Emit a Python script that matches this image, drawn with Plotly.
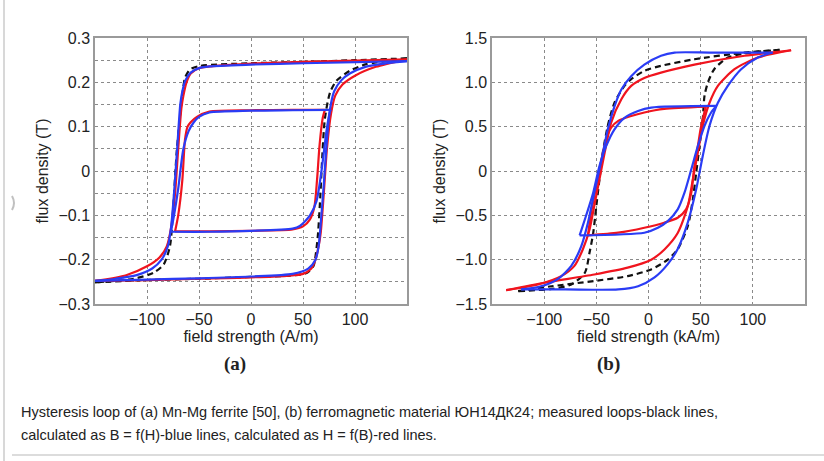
import plotly.graph_objects as go

# ================= Panel (a): Mn-Mg ferrite (H in A/m, B in T) =================
# measured major loop (black dashed): descending and ascending branches
a_meas_desc_H = [150, 100, 50, 0, -49, -58.7, -63.5, -65.7, -68, -71.5, -74.7, -77.9, -84, -94, -113, -150]
a_meas_desc_B = [0.254, 0.250, 0.246, 0.243, 0.237, 0.229, 0.210, 0.177, 0.130, 0.041, -0.079, -0.169, -0.211, -0.230, -0.243, -0.251]
a_meas_asc_H = [-150, -100, -50, 0, 37.5, 53.5, 60, 62.5, 64.5, 66.3, 71, 76, 82, 95, 111, 150]
a_meas_asc_B = [-0.251, -0.246, -0.243, -0.239, -0.236, -0.230, -0.215, -0.184, -0.140, -0.072, 0.117, 0.177, 0.203, 0.226, 0.241, 0.254]

# calculated B = f(H) (blue), major loop
a_bh_desc_H = [150, 50, 0, -40, -50, -58, -63, -66, -68, -71, -74, -77, -80, -86, -95, -110, -130, -150]
a_bh_desc_B = [0.248, 0.243, 0.240, 0.236, 0.232, 0.222, 0.205, 0.180, 0.150, 0.050, -0.050, -0.130, -0.170, -0.200, -0.220, -0.235, -0.243, -0.248]
a_bh_asc_H = [-150, -100, -50, 0, 40, 55, 62, 65, 67, 70, 73, 76, 80, 87, 95, 110, 130, 150]
a_bh_asc_B = [-0.248, -0.245, -0.242, -0.238, -0.232, -0.220, -0.200, -0.170, -0.120, -0.030, 0.070, 0.140, 0.180, 0.205, 0.220, 0.235, 0.243, 0.248]

# calculated H = f(B) (red), major loop
a_hb_desc_H = [150, 50, 0, -50, -58, -62, -65, -67, -70, -73, -77, -81, -88, -100, -120, -150]
a_hb_desc_B = [0.252, 0.246, 0.242, 0.232, 0.220, 0.200, 0.170, 0.140, 0.050, -0.050, -0.130, -0.170, -0.195, -0.215, -0.235, -0.248]
a_hb_asc_H = [-150, -100, -50, 0, 50, 58, 62, 65, 67, 70, 73, 77, 81, 88, 100, 120, 150]
a_hb_asc_B = [-0.248, -0.246, -0.243, -0.240, -0.232, -0.220, -0.200, -0.170, -0.140, -0.050, 0.050, 0.130, 0.170, 0.195, 0.215, 0.235, 0.252]

# minor loops
a_bh_minor_desc_H = [77, 40, 0, -40, -50, -55, -60, -65, -70, -74, -77]
a_bh_minor_desc_B = [0.138, 0.137, 0.136, 0.132, 0.122, 0.110, 0.090, 0.050, -0.040, -0.100, -0.137]
a_bh_minor_asc_H = [-77, -40, 0, 40, 47, 56.7, 63, 68, 72.8, 76, 77]
a_bh_minor_asc_B = [-0.137, -0.137, -0.135, -0.130, -0.124, -0.100, -0.068, 0.004, 0.094, 0.135, 0.138]

a_hb_minor_desc_H = [71, 40, 0, -40, -52, -58, -61, -63.5, -66, -70, -73]
a_hb_minor_desc_B = [0.138, 0.138, 0.137, 0.134, 0.122, 0.110, 0.100, 0.070, -0.020, -0.100, -0.136]
a_hb_minor_asc_H = [-73, -40, 0, 40, 50, 56.7, 61, 63.5, 66, 69, 71]
a_hb_minor_asc_B = [-0.136, -0.136, -0.135, -0.132, -0.125, -0.109, -0.080, -0.020, 0.060, 0.120, 0.138]

# ================= Panel (b): ЮН14ДК24 (H in kA/m, B in T) =================
b_meas_desc_H = [125.6, 92, 44, 12, -4, -16.6, -23, -32.6, -39, -43.8, -47, -50, -53, -56.5, -61, -74, -93, -125]
b_meas_desc_B = [1.366, 1.336, 1.26, 1.186, 1.13, 1.035, 0.96, 0.77, 0.51, 0.207, -0.094, -0.395, -0.70, -0.92, -1.148, -1.28, -1.33, -1.355]
b_meas_asc_H = [-125, -93, -52, -20, 2.6, 18.5, 28, 37.7, 42.5, 45.7, 48.9, 52, 53.7, 57, 63, 76, 98, 125.6]
b_meas_asc_B = [-1.355, -1.30, -1.24, -1.186, -1.11, -1.0, -0.88, -0.62, -0.32, -0.019, 0.28, 0.58, 0.85, 1.0, 1.148, 1.28, 1.336, 1.366]

b_bh_desc_H = [119, 60, 25, 12, -4, -16.6, -26, -32.6, -39, -45, -52, -58, -64.5, -74, -87, -103, -122]
b_bh_desc_B = [1.336, 1.336, 1.336, 1.30, 1.20, 1.07, 0.92, 0.73, 0.47, 0.13, -0.245, -0.58, -0.85, -1.07, -1.22, -1.30, -1.336]
b_bh_asc_H = [-122, -80, -29, -10, 5.8, 18.5, 28, 37.7, 45.7, 52, 58.5, 66.5, 76, 88.8, 104.8, 119]
b_bh_asc_B = [-1.336, -1.336, -1.336, -1.30, -1.20, -1.05, -0.88, -0.58, -0.207, 0.17, 0.51, 0.77, 0.96, 1.148, 1.28, 1.336]

b_hb_desc_H = [136.7, 92, 44, 12, -4, -16.6, -26, -35.8, -42, -47, -52, -56.5, -63, -71, -83.7, -106, -136.4]
b_hb_desc_B = [1.362, 1.30, 1.20, 1.11, 1.05, 0.96, 0.81, 0.546, 0.207, -0.094, -0.395, -0.66, -0.885, -1.07, -1.186, -1.28, -1.344]
b_hb_asc_H = [-136.4, -99.7, -52, -20, 2.6, 15.3, 28, 37.7, 42.5, 47.3, 52, 58.5, 66.5, 82.4, 104.8, 136.7]
b_hb_asc_B = [-1.344, -1.26, -1.167, -1.09, -1.0, -0.885, -0.70, -0.395, -0.094, 0.207, 0.51, 0.77, 0.96, 1.148, 1.28, 1.362]

b_bh_minor_desc_H = [65, 2.6, -10, -23, -32.6, -40.6, -47, -53, -60, -66]
b_bh_minor_desc_B = [0.734, 0.715, 0.677, 0.60, 0.47, 0.28, 0.056, -0.245, -0.51, -0.726]
b_bh_minor_asc_H = [-66, -4, 9, 18.5, 28, 34.5, 41, 47.3, 53.7, 60, 65]
b_bh_minor_asc_B = [-0.726, -0.696, -0.64, -0.565, -0.433, -0.245, 0.019, 0.28, 0.51, 0.66, 0.734]

b_hb_minor_desc_H = [55, 15, -4, -16.6, -29, -35.8, -40.6, -45, -50, -55, -58]
b_hb_minor_desc_B = [0.726, 0.70, 0.66, 0.62, 0.565, 0.49, 0.36, 0.13, -0.17, -0.47, -0.726]
b_hb_minor_asc_H = [-58, -29, -4, 15, 28, 36, 41, 44, 47.3, 50.5, 55]
b_hb_minor_asc_B = [-0.726, -0.696, -0.64, -0.583, -0.527, -0.433, -0.245, 0.056, 0.28, 0.51, 0.726]

# ================= tick labels =================
x_tickvals = [-100, -50, 0, 50, 100]
x_ticktext = ["\u2212100", "\u221250", "0", "50", "100"]
a_y_tickvals = [-0.3, -0.25, -0.2, -0.15, -0.1, -0.05, 0, 0.05, 0.1, 0.15, 0.2, 0.25, 0.3]
a_y_ticktext = ["\u22120.3", "", "\u22120.2", "", "\u22120.1", "", "0", "", "0.1", "", "0.2", "", "0.3"]
b_y_tickvals = [-1.5, -1.0, -0.5, 0, 0.5, 1.0, 1.5]
b_y_ticktext = ["\u22121.5", "\u22121.0", "\u22120.5", "0", "0.5", "1.0", "1.5"]

RED = "#f0141e"
BLUE = "#2a3cf5"
BLACK = "#111111"

fig = go.Figure()

def add(x, y, color, dash, xa, ya, width=2.2):
    fig.add_trace(go.Scatter(x=x, y=y, mode="lines", xaxis=xa, yaxis=ya,
                             line=dict(color=color, width=width, dash=dash, shape="spline", smoothing=0.7),
                             showlegend=False, hoverinfo="skip"))

DASH = "6px,4px"
# panel a
add(a_meas_desc_H, a_meas_desc_B, BLACK, DASH, "x", "y")
add(a_meas_asc_H, a_meas_asc_B, BLACK, DASH, "x", "y")
add(a_hb_desc_H, a_hb_desc_B, RED, "solid", "x", "y")
add(a_hb_asc_H, a_hb_asc_B, RED, "solid", "x", "y")
add(a_hb_minor_desc_H, a_hb_minor_desc_B, RED, "solid", "x", "y")
add(a_hb_minor_asc_H, a_hb_minor_asc_B, RED, "solid", "x", "y")
add(a_bh_desc_H, a_bh_desc_B, BLUE, "solid", "x", "y")
add(a_bh_asc_H, a_bh_asc_B, BLUE, "solid", "x", "y")
add(a_bh_minor_desc_H, a_bh_minor_desc_B, BLUE, "solid", "x", "y")
add(a_bh_minor_asc_H, a_bh_minor_asc_B, BLUE, "solid", "x", "y")
# panel b
add(b_meas_desc_H, b_meas_desc_B, BLACK, DASH, "x2", "y2")
add(b_meas_asc_H, b_meas_asc_B, BLACK, DASH, "x2", "y2")
add(b_hb_desc_H, b_hb_desc_B, RED, "solid", "x2", "y2")
add(b_hb_asc_H, b_hb_asc_B, RED, "solid", "x2", "y2")
add(b_hb_minor_desc_H, b_hb_minor_desc_B, RED, "solid", "x2", "y2")
add(b_hb_minor_asc_H, b_hb_minor_asc_B, RED, "solid", "x2", "y2")
add(b_bh_desc_H, b_bh_desc_B, BLUE, "solid", "x2", "y2")
add(b_bh_asc_H, b_bh_asc_B, BLUE, "solid", "x2", "y2")
add(b_bh_minor_desc_H, b_bh_minor_desc_B, BLUE, "solid", "x2", "y2")
add(b_bh_minor_asc_H, b_bh_minor_asc_B, BLUE, "solid", "x2", "y2")

W, H = 824, 461
def px_x(v): return v / W
def px_y(v): return 1 - v / H

SANS = "Liberation Sans, Arial, sans-serif"
tickfont = dict(family=SANS, size=16, color="#222222")
titlefont = dict(family=SANS, size=16, color="#222222")
common_axis = dict(showline=True, mirror=True, linecolor="#9a9a9a", linewidth=1.5,
                   showgrid=True, gridcolor="#8a8a8a", gridwidth=1, griddash="dot",
                   zeroline=False, ticks="", tickfont=tickfont, fixedrange=True, automargin=False)

fig.update_layout(
    width=W, height=H, margin=dict(l=0, r=0, t=0, b=0, autoexpand=False),
    paper_bgcolor="white", plot_bgcolor="white",
    xaxis=dict(domain=[px_x(95), px_x(407)], range=[-150, 150], anchor="y",
               tickvals=x_tickvals, ticktext=x_ticktext,
               title=dict(text="field strength (A/m)", font=titlefont, standoff=4), **common_axis),
    yaxis=dict(domain=[px_y(304), px_y(38)], range=[-0.3, 0.3], anchor="x",
               tickvals=a_y_tickvals, ticktext=a_y_ticktext,
               title=dict(text="flux density (T)", font=titlefont, standoff=6), **common_axis),
    xaxis2=dict(domain=[px_x(492), px_x(805)], range=[-150, 150], anchor="y2",
                tickvals=x_tickvals, ticktext=x_ticktext,
                title=dict(text="field strength (kA/m)", font=titlefont, standoff=4), **common_axis),
    yaxis2=dict(domain=[px_y(304), px_y(38)], range=[-1.5, 1.5], anchor="x2",
                tickvals=b_y_tickvals, ticktext=b_y_ticktext,
                title=dict(text="flux density (T)", font=titlefont, standoff=6), **common_axis),
)

# sub-figure labels
serif = dict(family="Liberation Serif, Times New Roman, serif", size=19, color="#222222", weight="bold")
fig.add_annotation(x=px_x(222), y=px_y(377), xref="paper", yref="paper", text="(a)", showarrow=False, font=serif)
fig.add_annotation(x=px_x(622), y=px_y(377), xref="paper", yref="paper", text="(b)", showarrow=False, font=serif)

# caption
capfont = dict(family=SANS, size=14.5, color="#222222")
fig.add_annotation(x=px_x(19), y=px_y(412), xref="paper", yref="paper", xanchor="left", yanchor="middle",
                   text="Hysteresis loop of (a) Mn-Mg ferrite [50], (b) ferromagnetic material ЮН14ДК24; measured loops-black lines,",
                   showarrow=False, font=capfont)
fig.add_annotation(x=px_x(19), y=px_y(435), xref="paper", yref="paper", xanchor="left", yanchor="middle",
                   text="calculated as B = f(H)-blue lines, calculated as H = f(B)-red lines.",
                   showarrow=False, font=capfont)

# page decorations
fig.add_shape(type="line", xref="paper", yref="paper", x0=px_x(4), x1=px_x(4), y0=px_y(0), y1=px_y(461),
              line=dict(color="#d8d8d8", width=2))
fig.add_shape(type="line", xref="paper", yref="paper", x0=px_x(12), x1=1, y0=px_y(455), y1=px_y(455),
              line=dict(color="#d0d0d0", width=1.5))
fig.add_shape(type="path", xref="paper", yref="paper",
              path=f"M {px_x(12)} {px_y(196)} Q {px_x(16)} {px_y(203)} {px_x(12)} {px_y(210)}",
              line=dict(color="#c0c0c0", width=2))

fig.write_html("out.html", config={"displayModeBar": False},
               post_script="document.body.style.margin='0';document.body.style.overflow='hidden';")
